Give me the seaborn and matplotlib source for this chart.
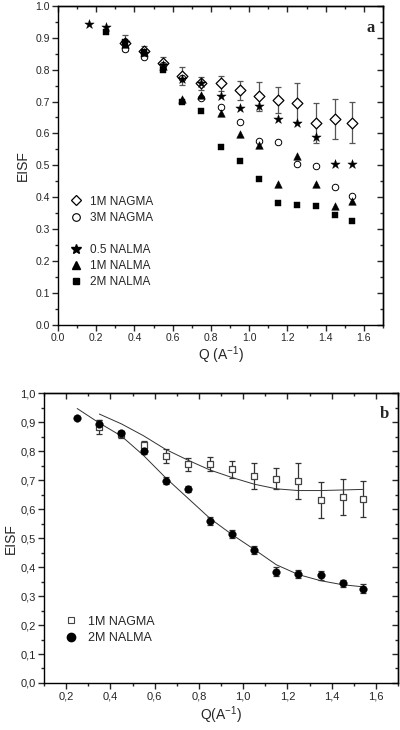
import numpy as np
import pandas as pd
import matplotlib
matplotlib.use("Agg")
import matplotlib.pyplot as plt
from matplotlib.lines import Line2D
from matplotlib.ticker import MultipleLocator, FuncFormatter
import seaborn as sns

# ---------------- data: panel a ----------------
q_nagma1 = [0.35, 0.45, 0.55, 0.65, 0.75, 0.85, 0.95, 1.05, 1.15, 1.25, 1.35, 1.45, 1.54]
eisf_nagma1 = [0.885, 0.858, 0.821, 0.780, 0.757, 0.757, 0.735, 0.716, 0.705, 0.695, 0.634, 0.645, 0.634]
err_nagma1 = [0.025, 0.015, 0.018, 0.027, 0.020, 0.024, 0.030, 0.045, 0.040, 0.063, 0.063, 0.063, 0.065]

q_nagma3 = [0.35, 0.45, 0.55, 0.65, 0.75, 0.85, 0.95, 1.05, 1.15, 1.25, 1.35, 1.45, 1.54]
eisf_nagma3 = [0.864, 0.839, 0.815, 0.775, 0.711, 0.682, 0.635, 0.577, 0.573, 0.503, 0.498, 0.432, 0.405]

q_nalma05 = [0.16, 0.25, 0.35, 0.45, 0.55, 0.65, 0.75, 0.85, 0.95, 1.05, 1.15, 1.25, 1.35, 1.45, 1.54]
eisf_nalma05 = [0.944, 0.935, 0.888, 0.852, 0.815, 0.770, 0.758, 0.718, 0.679, 0.687, 0.646, 0.634, 0.588, 0.503, 0.503]

q_nalma1 = [0.35, 0.45, 0.55, 0.65, 0.75, 0.85, 0.95, 1.05, 1.15, 1.25, 1.35, 1.45, 1.54]
eisf_nalma1 = [0.880, 0.855, 0.810, 0.707, 0.721, 0.664, 0.599, 0.564, 0.441, 0.528, 0.441, 0.371, 0.389]

q_nalma2 = [0.25, 0.35, 0.45, 0.55, 0.65, 0.75, 0.85, 0.95, 1.05, 1.15, 1.25, 1.35, 1.45, 1.54]
eisf_nalma2 = [0.919, 0.888, 0.854, 0.800, 0.700, 0.669, 0.559, 0.513, 0.458, 0.383, 0.376, 0.371, 0.343, 0.326]

# ---------------- data: panel b ----------------
qb_nagma1 = [0.35, 0.45, 0.55, 0.65, 0.75, 0.85, 0.95, 1.05, 1.15, 1.25, 1.35, 1.45, 1.54]
eisfb_nagma1 = [0.884, 0.859, 0.821, 0.783, 0.755, 0.755, 0.737, 0.714, 0.705, 0.697, 0.633, 0.642, 0.636]
errb_nagma1 = [0.025, 0.012, 0.015, 0.025, 0.023, 0.025, 0.030, 0.045, 0.037, 0.062, 0.062, 0.062, 0.062]

qb_nalma2 = [0.25, 0.35, 0.45, 0.55, 0.65, 0.75, 0.85, 0.95, 1.05, 1.15, 1.25, 1.35, 1.45, 1.54]
eisfb_nalma2 = [0.916, 0.893, 0.861, 0.800, 0.698, 0.669, 0.559, 0.514, 0.459, 0.384, 0.376, 0.372, 0.344, 0.325]
errb_nalma2 = [0.005, 0.015, 0.010, 0.010, 0.012, 0.010, 0.015, 0.015, 0.015, 0.015, 0.015, 0.015, 0.012, 0.015]

# fitted curves
qfit_nagma1 = [0.35, 0.45, 0.55, 0.65, 0.75, 0.85, 0.95, 1.05, 1.15, 1.25, 1.35, 1.45, 1.54]
fit_nagma1 = [0.928, 0.894, 0.853, 0.806, 0.769, 0.735, 0.709, 0.686, 0.670, 0.664, 0.664, 0.666, 0.668]
qfit_nalma2 = [0.25, 0.35, 0.45, 0.55, 0.65, 0.75, 0.85, 0.95, 1.05, 1.15, 1.25, 1.35, 1.45, 1.54]
fit_nalma2 = [0.947, 0.897, 0.852, 0.785, 0.708, 0.638, 0.568, 0.512, 0.461, 0.408, 0.374, 0.353, 0.339, 0.332]

# ---------------- style ----------------
sns.set_style("ticks")
plt.rcParams['font.family'] = ['Liberation Sans', 'DejaVu Sans']
plt.rcParams['mathtext.fontset'] = 'custom'
plt.rcParams['mathtext.rm'] = 'Liberation Sans'
plt.rcParams['mathtext.it'] = 'Liberation Sans:italic'
plt.rcParams['mathtext.default'] = 'regular'
plt.rcParams['axes.linewidth'] = 1.0

fig = plt.figure(figsize=(4.0, 7.3), dpi=100)
axa = fig.add_axes([0.145, 0.555, 0.8125, 0.437])
axb = fig.add_axes([0.11, 0.0644, 0.885, 0.397])


def style_axes(ax, xmin, xmax, fmt_comma, tick_fs):
    ax.set_xlim(xmin, xmax)
    ax.set_ylim(0.0, 1.0)
    ax.xaxis.set_major_locator(MultipleLocator(0.2))
    ax.xaxis.set_minor_locator(MultipleLocator(0.1))
    ax.yaxis.set_major_locator(MultipleLocator(0.1))
    ax.yaxis.set_minor_locator(MultipleLocator(0.05))
    if fmt_comma:
        f = FuncFormatter(lambda v, p: f"{v:.1f}".replace('.', ','))
    else:
        f = FuncFormatter(lambda v, p: f"{v:.1f}")
    ax.xaxis.set_major_formatter(f)
    ax.yaxis.set_major_formatter(f)
    ax.tick_params(which='major', direction='out', length=4, width=1.0, labelsize=tick_fs, pad=2)
    ax.tick_params(which='minor', direction='out', length=2.5, width=1.0)
    for sp in ax.spines.values():
        sp.set_visible(True)
        sp.set_color('black')
    top = ax.secondary_xaxis('top')
    top.xaxis.set_major_locator(MultipleLocator(0.2))
    top.xaxis.set_minor_locator(MultipleLocator(0.1))
    top.tick_params(which='major', direction='in', length=4, width=1.0, labeltop=False)
    top.tick_params(which='minor', direction='in', length=2.5, width=1.0)
    right = ax.secondary_yaxis('right')
    right.yaxis.set_major_locator(MultipleLocator(0.1))
    right.yaxis.set_minor_locator(MultipleLocator(0.05))
    right.tick_params(which='major', direction='in', length=4, width=1.0, labelright=False)
    right.tick_params(which='minor', direction='in', length=2.5, width=1.0)


# ---------------- panel a ----------------
axa.errorbar(q_nagma1, eisf_nagma1, yerr=err_nagma1, fmt='none', ecolor='#555555',
             elinewidth=0.9, capsize=2.5, capthick=0.9, zorder=2)
sns.scatterplot(x=q_nagma1, y=eisf_nagma1, ax=axa, marker='D', s=30,
                facecolor='white', edgecolor='black', linewidth=0.9, zorder=3)
sns.scatterplot(x=q_nagma3, y=eisf_nagma3, ax=axa, marker='o', s=22,
                facecolor='white', edgecolor='black', linewidth=0.7, zorder=3)
sns.scatterplot(x=q_nalma05, y=eisf_nalma05, ax=axa, marker='*', s=50,
                color='black', edgecolor='black', linewidth=0.3, zorder=4)
sns.scatterplot(x=q_nalma1, y=eisf_nalma1, ax=axa, marker='^', s=30,
                color='black', edgecolor='black', linewidth=0.3, zorder=4)
sns.scatterplot(x=q_nalma2, y=eisf_nalma2, ax=axa, marker='s', s=20,
                color='black', edgecolor='black', linewidth=0.3, zorder=4)

style_axes(axa, 0.0, 1.7, False, 7.5)
axa.set_xlabel("Q (A$^{-1}$)", fontsize=10, labelpad=1)
axa.set_ylabel("EISF", fontsize=10, labelpad=4)
axa.text(0.975, 0.955, "a", transform=axa.transAxes, ha='right', va='top',
         fontsize=12, fontweight='bold', family='Liberation Serif')

handles_a = [
    Line2D([], [], ls='none', marker='D', ms=5.5, mfc='white', mec='black', mew=0.9),
    Line2D([], [], ls='none', marker='o', ms=5.5, mfc='white', mec='black', mew=0.8),
    Line2D([], [], ls='none', marker='', ms=0),
    Line2D([], [], ls='none', marker='*', ms=7.5, mfc='black', mec='black'),
    Line2D([], [], ls='none', marker='^', ms=6, mfc='black', mec='black'),
    Line2D([], [], ls='none', marker='s', ms=5, mfc='black', mec='black'),
]
labels_a = ["1M NAGMA", "3M NAGMA", " ", "0.5 NALMA", "1M NALMA", "2M NALMA"]
axa.legend(handles_a, labels_a, loc='upper left', bbox_to_anchor=(0.02, 0.42),
           frameon=False, fontsize=8.5, handletextpad=0.6, labelspacing=0.35,
           handlelength=1.2, borderaxespad=0)

# ---------------- panel b ----------------
sns.lineplot(x=qfit_nagma1, y=fit_nagma1, ax=axb, color='#333333', linewidth=0.7, zorder=2)
sns.lineplot(x=qfit_nalma2, y=fit_nalma2, ax=axb, color='#333333', linewidth=0.7, zorder=2)
axb.errorbar(qb_nagma1, eisfb_nagma1, yerr=errb_nagma1, fmt='none', ecolor='#333333',
             elinewidth=0.9, capsize=2.5, capthick=0.9, zorder=3)
axb.errorbar(qb_nalma2, eisfb_nalma2, yerr=errb_nalma2, fmt='none', ecolor='#333333',
             elinewidth=0.9, capsize=2.5, capthick=0.9, zorder=3)
sns.scatterplot(x=qb_nagma1, y=eisfb_nagma1, ax=axb, marker='s', s=24,
                facecolor='white', edgecolor='#444444', linewidth=0.9, zorder=4)
sns.scatterplot(x=qb_nalma2, y=eisfb_nalma2, ax=axb, marker='o', s=30,
                color='black', edgecolor='black', linewidth=0.3, zorder=4)

style_axes(axb, 0.1, 1.7, True, 8)
axb.set_xlabel("Q(A$^{-1}$)", fontsize=10, labelpad=2)
axb.set_ylabel("EISF", fontsize=10, labelpad=2)
axb.text(0.975, 0.955, "b", transform=axb.transAxes, ha='right', va='top',
         fontsize=12, fontweight='bold', family='Liberation Serif')

handles_b = [
    Line2D([], [], ls='none', marker='s', ms=5, mfc='white', mec='#444444', mew=0.8),
    Line2D([], [], ls='none', marker='o', ms=6, mfc='black', mec='black'),
]
labels_b = ["1M NAGMA", "2M NALMA"]
axb.legend(handles_b, labels_b, loc='upper left', bbox_to_anchor=(0.04, 0.25),
           frameon=False, fontsize=9, handletextpad=0.8, labelspacing=0.35,
           handlelength=1.2, borderaxespad=0)

fig.savefig("out.png", dpi=100)
